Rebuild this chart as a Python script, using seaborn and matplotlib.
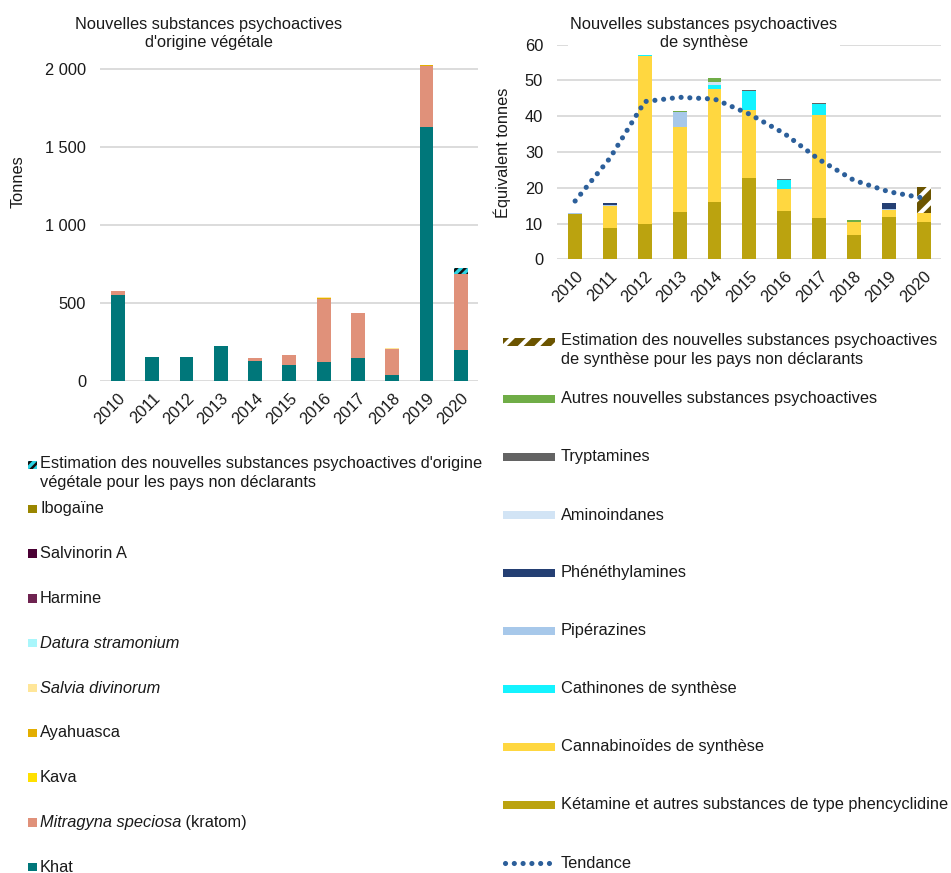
import numpy as np
import pandas as pd
import matplotlib
matplotlib.use("Agg")
import matplotlib.pyplot as plt
from matplotlib.patches import Rectangle
from matplotlib.lines import Line2D
import seaborn as sns

W, H = 951, 873

years = ["2010", "2011", "2012", "2013", "2014", "2015", "2016", "2017", "2018", "2019", "2020"]

# Nouvelles substances psychoactives d'origine végétale (tonnes), bottom -> top
khat = [551, 152, 152, 222, 130, 105, 124, 147, 38, 1624, 201]
kratom = [26, 0, 0, 0, 17, 62, 404, 287, 167, 397, 485]
kava = [0, 0, 2, 0, 0, 0, 0, 0, 0, 0, 0]
ayahuasca = [0, 0, 0, 3, 0, 0, 5, 0, 3, 3, 0]
salvia = [2, 0, 2, 0, 1, 0, 2, 0, 2, 2, 0]
datura = [0, 1, 0, 0, 0, 1, 0, 3, 0, 0, 0]
harmine = [0, 0, 0, 0, 0, 0, 0, 0, 0, 0, 0]
salvinorin = [0, 0, 0, 0, 0, 0, 0, 0, 0, 0, 0]
ibogaine = [0, 0, 0, 0, 0, 0, 0, 0, 0, 0, 0]
estim_veg = [0, 0, 0, 0, 0, 0, 0, 0, 0, 0, 38]

# Nouvelles substances psychoactives de synthèse (équivalent tonnes), bottom -> top
ketamine = [12.6, 8.8, 10.0, 13.1, 16.1, 22.6, 13.5, 11.5, 6.8, 11.8, 10.3]
cannabinoides = [0.0, 6.2, 46.9, 23.9, 31.5, 19.1, 6.2, 28.8, 3.5, 2.0, 2.7]
cathinones = [0, 0, 0.1, 0, 1.1, 5.3, 2.6, 3.0, 0, 0, 0]
piperazines = [0.3, 0.2, 0, 4.1, 0, 0, 0, 0.2, 0, 0.3, 0]
phenethylamines = [0, 0.5, 0, 0, 0, 0, 0, 0, 0, 1.6, 0]
aminoindanes = [0, 0, 0, 0, 0.8, 0, 0, 0, 0, 0, 0]
tryptamines = [0, 0, 0, 0, 0, 0.2, 0.2, 0.1, 0, 0.1, 0]
autres = [0, 0, 0.1, 0.4, 1.1, 0, 0, 0.1, 0.6, 0, 0]
estim_syn = [0, 0, 0, 0, 0, 0, 0, 0, 0, 0, 7.2]
tendance = [16.3, 28.3, 44.1, 45.3, 44.8, 40.6, 35.2, 27.9, 22.1, 18.9, 17.1]

veg_layers = [
    ("Khat", khat, "#00777A", None, None),
    ("Kratom", kratom, "#E0917A", None, None),
    ("Kava", kava, "#FFE000", None, None),
    ("Ayahuasca", ayahuasca, "#E3AE00", None, None),
    ("Salvia", salvia, "#FFE699", None, None),
    ("Datura", datura, "#A9F6FB", None, None),
    ("Harmine", harmine, "#6E2350", None, None),
    ("Salvinorin", salvinorin, "#4A0033", None, None),
    ("Ibogaine", ibogaine, "#9A8600", None, None),
    ("Estimation", estim_veg, "#2CD3E3", "#111111", "////"),
]
syn_layers = [
    ("Ketamine", ketamine, "#BBA30F", None, None),
    ("Cannabinoides", cannabinoides, "#FFD740", None, None),
    ("Cathinones", cathinones, "#14F3FF", None, None),
    ("Piperazines", piperazines, "#A7C8EA", None, None),
    ("Phenethylamines", phenethylamines, "#243F73", None, None),
    ("Aminoindanes", aminoindanes, "#D2E4F5", None, None),
    ("Tryptamines", tryptamines, "#636363", None, None),
    ("Autres", autres, "#70AD47", None, None),
    ("Estimation", estim_syn, "#6B5400", "white", "//"),
]
TREND_COLOR = "#2C5F9A"
GRID = "#D9D9D9"
FS = 11.8
LS = 1.3

sns.set_theme(style="white")
plt.rcParams["font.family"] = ["Liberation Sans", "DejaVu Sans"]
plt.rcParams["text.color"] = "#1a1a1a"


def fig_rect(x0, y0, x1, y1):
    return [x0 / W, 1 - y1 / H, (x1 - x0) / W, (y1 - y0) / H]


def hatch_lw(hatch):
    return 3.0 if hatch == "//" else 1.8


def stacked(ax, layers):
    df = pd.DataFrame({name: vals for name, vals, *_ in layers}, index=years)
    cum = df.cumsum(axis=1)
    # draw from the top of the stack down so each lower total covers the upper one
    for name, _, color, hcolor, hatch in reversed(layers):
        kw = dict(x=years, y=cum[name].values, color=color, width=0.4,
                  errorbar=None, saturation=1, linewidth=0, ax=ax, zorder=2)
        if hatch:
            with plt.rc_context({"hatch.linewidth": hatch_lw(hatch)}):
                sns.barplot(**kw, hatch=hatch, edgecolor=hcolor)
        else:
            sns.barplot(**kw)


def style_axis(ax, ylim, ticks, labels):
    ax.set_ylim(*ylim)
    ax.set_xlim(-0.52, 10.5)
    ax.set_yticks(ticks)
    ax.set_yticklabels(labels)
    ax.grid(axis="y", color=GRID, linewidth=1.3)
    ax.set_axisbelow(True)
    for s in ax.spines.values():
        s.set_visible(False)
    ax.tick_params(axis="both", length=0, labelsize=FS, colors="#1a1a1a")
    ax.tick_params(axis="y", pad=10)
    ax.tick_params(axis="x", pad=7)
    ax.set_xticks(range(len(years)))
    ax.set_xticklabels(years, rotation=45, ha="right", rotation_mode="anchor")
    ax.set_xlabel("")
    ax.set_ylabel("")


fig = plt.figure(figsize=(W / 100, H / 100), dpi=100)

# left chart
ax1 = fig.add_axes(fig_rect(100, 61, 478, 381))
stacked(ax1, veg_layers)
style_axis(ax1, (0, 2050), [0, 500, 1000, 1500, 2000], ["0", "500", "1 000", "1 500", "2 000"])
for p in ax1.patches:
    p.set_clip_on(False)
fig.text(18 / W, 1 - 182 / H, "Tonnes", rotation=90, ha="center", va="center", fontsize=FS)
fig.text(209 / W, 1 - 33.5 / H, "Nouvelles substances psychoactives\nd'origine végétale",
         ha="center", va="center", fontsize=FS, linespacing=LS)

# right chart
ax2 = fig.add_axes(fig_rect(557, 44.7, 941, 259.3))
stacked(ax2, syn_layers)
sns.lineplot(x=np.arange(len(years)), y=tendance, ax=ax2, color=TREND_COLOR, linewidth=3.7,
             linestyle=(0, (0.01, 1.7)), dash_capstyle="round", zorder=5)
style_axis(ax2, (0, 60), list(range(0, 61, 10)), [str(v) for v in range(0, 61, 10)])
fig.text(502 / W, 1 - 153 / H, "Équivalent tonnes", rotation=90, ha="center", va="center", fontsize=FS)
fig.text(704 / W, 1 - 33.5 / H, "Nouvelles substances psychoactives\nde synthèse",
         ha="center", va="center", fontsize=FS, linespacing=LS, zorder=10,
         bbox=dict(facecolor="white", edgecolor="none", pad=2))

# legends, in pixel coordinates
lg = fig.add_axes([0, 0, 1, 1])
lg.set_xlim(0, W)
lg.set_ylim(H, 0)
lg.axis("off")
lg.patch.set_alpha(0)
renderer = fig.canvas.get_renderer()

veg_legend = [
    ("Estimation", [("Estimation des nouvelles substances psychoactives d'origine\nvégétale pour les pays non déclarants", "normal")]),
    ("Ibogaine", [("Ibogaïne", "normal")]),
    ("Salvinorin", [("Salvinorin A", "normal")]),
    ("Harmine", [("Harmine", "normal")]),
    ("Datura", [("Datura stramonium", "italic")]),
    ("Salvia", [("Salvia divinorum", "italic")]),
    ("Ayahuasca", [("Ayahuasca", "normal")]),
    ("Kava", [("Kava", "normal")]),
    ("Kratom", [("Mitragyna speciosa", "italic"), (" (kratom)", "normal")]),
    ("Khat", [("Khat", "normal")]),
]
veg_style = {n: (c, hc, h) for n, _, c, hc, h in veg_layers}


def put_text(x, y, parts, va="center"):
    for txt, st in parts:
        t = lg.text(x, y, txt, fontsize=FS, style=st, va=va, ha="left", linespacing=LS)
        bb = t.get_window_extent(renderer)
        x = lg.transData.inverted().transform((bb.x1, bb.y0))[0]


for i, (name, parts) in enumerate(veg_legend):
    y = 465 if i == 0 else 509 + (i - 1) * 44.8
    c, hc, h = veg_style[name]
    with plt.rc_context({"hatch.linewidth": 1.8}):
        lg.add_patch(Rectangle((28, y - 4.5), 8.5, 8.5, facecolor=c, edgecolor=hc if h else "none",
                               hatch=h, linewidth=0))
    if i == 0:
        put_text(40, y - 9, parts, va="top")
    else:
        put_text(40, y, parts)

syn_legend = [
    ("Estimation", "Estimation des nouvelles substances psychoactives\nde synthèse pour les pays non déclarants"),
    ("Autres", "Autres nouvelles substances psychoactives"),
    ("Tryptamines", "Tryptamines"),
    ("Aminoindanes", "Aminoindanes"),
    ("Phenethylamines", "Phénéthylamines"),
    ("Piperazines", "Pipérazines"),
    ("Cathinones", "Cathinones de synthèse"),
    ("Cannabinoides", "Cannabinoïdes de synthèse"),
    ("Ketamine", "Kétamine et autres substances de type phencyclidine"),
    ("Tendance", "Tendance"),
]
syn_style = {n: (c, hc, h) for n, _, c, hc, h in syn_layers}

for i, (name, label) in enumerate(syn_legend):
    y = 342 if i == 0 else 399 + (i - 1) * 58
    if name == "Tendance":
        lg.add_line(Line2D([505, 553], [y, y], color=TREND_COLOR, linewidth=3.7,
                           linestyle=(0, (0.01, 1.7)), dash_capstyle="round"))
    else:
        c, hc, h = syn_style[name]
        with plt.rc_context({"hatch.linewidth": 3.0}):
            lg.add_patch(Rectangle((503, y - 4), 52, 8, facecolor=c, edgecolor=hc if h else "none",
                                   hatch=h, linewidth=0))
    if i == 0:
        put_text(561, y - 9, [(label, "normal")], va="top")
    else:
        put_text(561, y, [(label, "normal")])

fig.savefig("out.png", dpi=100)
